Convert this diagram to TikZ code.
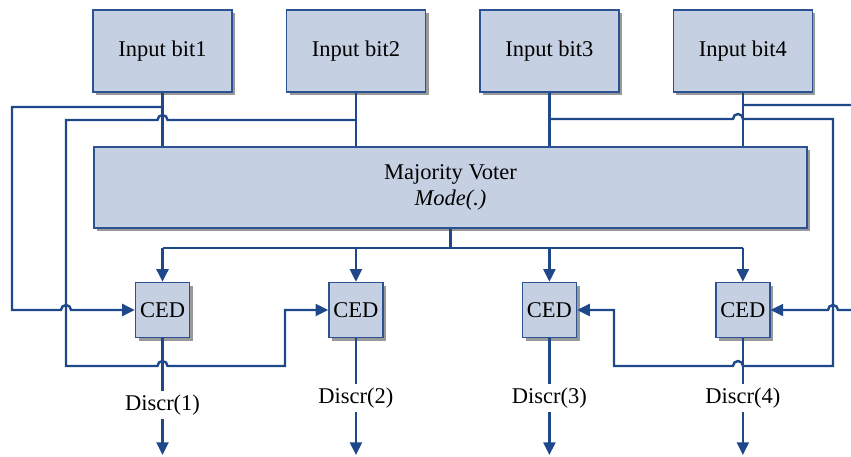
\documentclass[tikz,border=0pt]{standalone}
\usepackage{fontspec}
\setmainfont{Liberation Serif}
\usetikzlibrary{positioning,shadows,arrows.meta}

\definecolor{boxfill}{RGB}{197,209,227}
\definecolor{boxline}{RGB}{45,82,148}
\definecolor{wireblue}{RGB}{30,72,138}

\begin{document}
\begin{tikzpicture}[x=0.025cm, y=0.025cm,
    font=\fontsize{16}{18.5}\selectfont,
    block/.style={rectangle, draw=boxline, line width=1pt, fill=boxfill, inner sep=0pt,
        drop shadow={shadow xshift=2.2pt, shadow yshift=-2.2pt, fill=black!40, opacity=1}},
    bitbox/.style={block, minimum width=3.475cm, minimum height=2.05cm},
    cedbox/.style={block, minimum width=1.35cm, minimum height=1.375cm},
    voterbox/.style={block, minimum width=17.825cm, minimum height=2.025cm, align=center},
    discr/.style={inner sep=2.5pt},
    wire/.style={draw=wireblue, line width=1.7pt},
    arr/.style={-{Triangle[length=9pt,width=8.5pt]}}]
    \useasboundingbox (0,0) rectangle (851,456);
    \clip (0,0) rectangle (851,456);

    % Input bits along the top
    \node[bitbox] (bit1) at (162.5,405) {Input bit1};
    \node[bitbox, right=1.325cm of bit1] (bit2) {Input bit2};
    \node[bitbox, right=1.325cm of bit2] (bit3) {Input bit3};
    \node[bitbox, right=1.325cm of bit3] (bit4) {Input bit4};

    % Voter
    \node[voterbox] (voter) at (450.5,268.5) {Majority Voter\\\textit{Mode(.)}};

    % Checkers under each bit
    \foreach \i in {1,...,4}
        \node[cedbox] (ced\i) at (bit\i |- 0,146) {CED};

    % Output labels
    \node[discr] (d1) at (ced1 |- 0,51) {Discr(1)};
    \node[discr] (d2) at (ced2 |- 0,58) {Discr(2)};
    \node[discr] (d3) at (ced3 |- 0,58) {Discr(3)};
    \node[discr] (d4) at (ced4 |- 0,58) {Discr(4)};

    % Bits into the voter
    \foreach \i in {1,...,4}
        \draw[wire] (bit\i) -- (bit\i |- voter.north);

    % Voter result to every checker
    \coordinate (bus) at (voter.south |- 0,208);
    \draw[wire] (voter) -- (bus);
    \draw[wire] (ced1 |- bus) -- (ced4 |- bus);
    \foreach \i in {1,...,4}
        \draw[wire, arr] (ced\i |- bus) -- (ced\i);

    % Checker outputs
    \foreach \i in {1,...,4} {
        \draw[wire] (ced\i) -- (d\i);
        \draw[wire, arr] (d\i) -- (ced\i |- 0,1);
    }

    % Taps on the bit lines
    \coordinate (t1) at (bit1 |- 0,349);
    \coordinate (t2) at (bit2 |- 0,336);
    \coordinate (t3) at (bit3 |- 0,337);
    \coordinate (t4) at (bit4 |- 0,351);

    % Each bit back to its own checker
    \draw[wire, arr] (t1) -- (12,349) -- (12,146) -- (61,146)
        arc[start angle=180, end angle=0, radius=5] -- (ced1.west);
    \draw[wire, arr] (t2) -- (167.5,336)
        arc[start angle=0, end angle=180, radius=5] -- (66,336) -- (66,90) -- (157.5,90)
        arc[start angle=180, end angle=0, radius=5] -- (285,90) -- (285,146) -- (ced2.west);
    \draw[wire, arr] (t3) -- (733,337)
        arc[start angle=180, end angle=0, radius=5] -- (833,337) -- (833,90) -- (743,90)
        arc[start angle=0, end angle=180, radius=5] -- (614,90) -- (614,146) -- (ced3.east);
    \draw[wire, arr] (t4) -- (870,351) -- (870,146) -- (838,146)
        arc[start angle=0, end angle=180, radius=5] -- (ced4.east);
\end{tikzpicture}
\end{document}
